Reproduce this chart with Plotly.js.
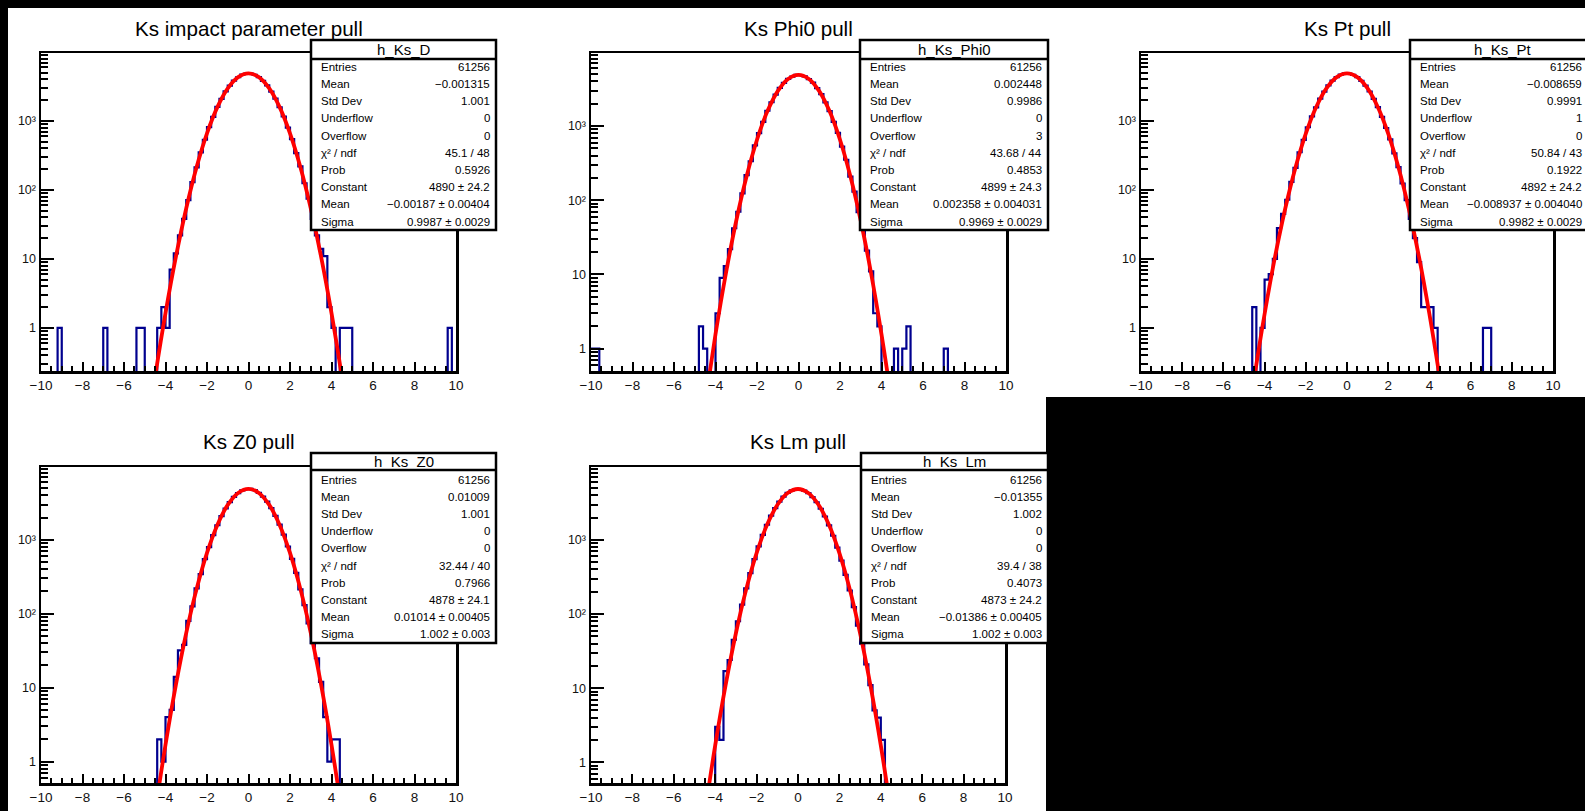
<!DOCTYPE html>
<html><head><meta charset="utf-8">
<script src="https://cdn.plot.ly/plotly-3.0.1.min.js"></script>
<style>html,body{margin:0;padding:0;background:#000;}#chart{width:1585px;height:811px;}</style>
</head><body><div id="chart"></div>
<script>
// ---------------- data ----------------
const xMin = -10, xMax = 10, nBins = 100;

const titles = ["Ks impact parameter pull", "Ks Phi0 pull", "Ks Pt pull", "Ks Z0 pull", "Ks Lm pull"];
const histNames = ["h_Ks_D", "h_Ks_Phi0", "h_Ks_Pt", "h_Ks_Z0", "h_Ks_Lm"];

const hD = [
  0,0,0,0,1,0,0,0,0,0,
  0,0,0,0,0,1,0,0,0,0,
  0,0,0,1,1,0,0,0,1,2,
  1,7,12,22,38,71,130,212,351,534,
  812,1146,1597,2088,2681,3249,3840,4301,4690,4858,
  4872,4662,4330,3815,3275,2660,2112,1579,1160,798,
  545,342,219,125,75,38,22,14,11,2,
  1,0,1,1,1,0,0,0,0,0,
  0,0,0,0,0,0,0,0,0,0,
  0,0,0,0,0,0,0,0,1,0];
const hPhi0 = [
  1,1,0,0,0,0,0,0,0,0,
  0,0,0,0,0,0,0,0,0,0,
  0,0,0,0,0,0,2,1,0,0,
  3,9,13,22,42,70,124,218,336,548,
  803,1141,1610,2095,2650,3281,3812,4334,4652,4891,
  4860,4690,4298,3846,3240,2688,2086,1592,1139,812,
  528,352,208,131,69,41,21,11,3,2,
  0,0,0,1,0,1,2,0,0,0,
  0,0,0,0,0,1,0,0,0,0,
  0,0,0,0,0,0,0,0,0,0];
const hPt = [
  0,0,0,0,0,0,0,0,0,0,
  0,0,0,0,0,0,0,0,0,0,
  0,0,0,0,0,0,0,2,0,1,
  5,6,10,28,45,72,131,209,352,531,
  810,1162,1578,2110,2660,3270,3836,4310,4701,4880,
  4842,4650,4322,3801,3255,2672,2094,1583,1149,790,
  541,339,214,124,71,38,20,9,2,2,
  2,1,0,0,0,0,0,0,0,0,
  0,0,0,1,1,0,0,0,0,0,
  0,0,0,0,0,0,0,0,0,0];
const hZ0 = [
  0,0,0,0,0,0,0,0,0,0,
  0,0,0,0,0,0,0,0,0,0,
  0,0,0,0,0,0,0,0,2,1,
  4,5,14,32,38,80,126,220,344,548,
  795,1158,1575,2096,2652,3240,3810,4290,4655,4840,
  4880,4690,4318,3850,3290,2690,2110,1601,1172,812,
  551,356,214,131,74,40,25,12,4,1,
  2,2,0,0,0,0,0,0,0,0,
  0,0,0,0,0,0,0,0,0,0,
  0,0,0,0,0,0,0,0,0,0];
const hLm = [
  0,0,0,0,0,0,0,0,0,0,
  0,0,0,0,0,0,0,0,0,0,
  0,0,0,0,0,0,0,0,0,0,
  3,2,17,24,45,80,134,222,358,551,
  820,1170,1605,2130,2690,3300,3842,4330,4680,4870,
  4850,4640,4285,3790,3230,2640,2075,1570,1140,788,
  528,338,208,124,70,40,21,11,5,4,
  2,0,0,0,0,0,0,0,0,0,
  0,0,0,0,0,0,0,0,0,0,
  0,0,0,0,0,0,0,0,0,0];

const fitX = [-5,-4.5,-4,-3.5,-3,-2.5,-2,-1.5,-1,-0.5,0,0.5,1,1.5,2,2.5,3,3.5,4,4.5,5];
const fD    = [0.0182,0.196,1.64,10.7,54.3,215,662,1588,2966,4315,4890,4315,2966,1588,662,215,54.3,10.7,1.64,0.196,0.0182];
const fPhi0 = [0.0169,0.184,1.56,10.3,53.0,211,655,1579,2962,4320,4899,4320,2962,1579,655,211,53.0,10.3,1.56,0.184,0.0169];
const fPt   = [0.0175,0.189,1.59,10.5,53.4,212,657,1582,2962,4315,4892,4315,2962,1582,657,212,53.4,10.5,1.59,0.189,0.0175];
const fZ0   = [0.0191,0.203,1.69,10.9,55.2,217,665,1591,2964,4307,4878,4307,2964,1591,665,217,55.2,10.9,1.69,0.203,0.0191];
const fLm   = [0.0191,0.203,1.69,10.9,55.1,217,665,1589,2961,4302,4873,4302,2961,1589,665,217,55.1,10.9,1.69,0.203,0.0191];

const statLabels = ["Entries","Mean","Std Dev","Underflow","Overflow","\u03C7\u00B2 / ndf","Prob","Constant","Mean","Sigma"];
const sD    = ["61256","\u22120.001315","1.001","0","0","45.1 / 48","0.5926","4890 \u00B1 24.2","\u22120.00187 \u00B1 0.00404","0.9987 \u00B1 0.0029"];
const sPhi0 = ["61256","0.002448","0.9986","0","3","43.68 / 44","0.4853","4899 \u00B1 24.3","0.002358 \u00B1 0.004031","0.9969 \u00B1 0.0029"];
const sPt   = ["61256","\u22120.008659","0.9991","1","0","50.84 / 43","0.1922","4892 \u00B1 24.2","\u22120.008937 \u00B1 0.004040","0.9982 \u00B1 0.0029"];
const sZ0   = ["61256","0.01009","1.001","0","0","32.44 / 40","0.7966","4878 \u00B1 24.1","0.01014 \u00B1 0.00405","1.002 \u00B1 0.003"];
const sLm   = ["61256","\u22120.01355","1.002","0","0","39.4 / 38","0.4073","4873 \u00B1 24.2","\u22120.01386 \u00B1 0.00405","1.002 \u00B1 0.003"];

const yTickVals = [1, 10, 100, 1000];
const yTickText = ["1", "10", "10\u00B2", "10\u00B3"];

// ---------------- layout geometry (pixels) ----------------
const W = 1585, H = 811;
const X = p => p / W, Y = p => 1 - p / H;
const panels = [
  {h: hD,    f: fD,    s: sD,    frame: [41, 456, 53, 371],    yr: [-0.625, 3.985], box: [311, 496, 40, 59, 230], vx: 492, row0: 66.7, dr: 17.2, ty: 28},
  {h: hPhi0, f: fPhi0, s: sPhi0, frame: [591, 1006, 53, 371],  yr: [-0.301, 3.985], box: [860, 1048, 40, 59, 230], vx: 1044, row0: 66.7, dr: 17.2, ty: 28},
  {h: hPt,   f: fPt,   s: sPt,   frame: [1141, 1553, 53, 371], yr: [-0.625, 3.985], box: [1410, 1596, 40, 59, 230], vx: 1584, row0: 66.7, dr: 17.2, ty: 28},
  {h: hZ0,   f: fZ0,   s: sZ0,   frame: [41, 456, 467, 783],   yr: [-0.29, 3.985],  box: [311, 496, 453, 470, 643], vx: 492, row0: 480, dr: 17.1, ty: 442},
  {h: hLm,   f: fLm,   s: sLm,   frame: [591, 1005, 467, 783], yr: [-0.28, 3.985],  box: [861, 1048, 453, 470, 643], vx: 1044, row0: 480, dr: 17.1, ty: 442}
];

const FONT = "Liberation Sans, Arial, Helvetica, sans-serif";
const binW = (xMax - xMin) / nBins;
const edges = [];
for (let i = 0; i <= nBins; i++) edges.push(+(xMin + i * binW).toFixed(2));

const yMinor = [];
[0.1, 1, 10, 100, 1000].forEach(d => { for (let k = 2; k <= 9; k++) yMinor.push(d * k); });

const traces = [];
const layout = {
  width: W, height: H,
  margin: {l: 0, r: 0, t: 0, b: 0},
  paper_bgcolor: "#000000",
  plot_bgcolor: "#ffffff",
  showlegend: false,
  hovermode: false,
  shapes: [
    {type: "rect", xref: "paper", yref: "paper", x0: X(8), x1: X(1585), y0: Y(397), y1: Y(8), fillcolor: "#ffffff", line: {width: 0}, layer: "below"},
    {type: "rect", xref: "paper", yref: "paper", x0: X(8), x1: X(1046), y0: Y(811), y1: Y(396), fillcolor: "#ffffff", line: {width: 0}, layer: "below"}
  ],
  annotations: []
};

panels.forEach((p, k) => {
  const n = k === 0 ? "" : String(k + 1);
  const xa = "x" + n, ya = "y" + n;
  const yPlot = p.h.map(v => v > 0 ? v : 1e-4);
  yPlot.push(yPlot[yPlot.length - 1]);
  traces.push({x: edges, y: yPlot, xaxis: xa, yaxis: ya, type: "scatter", mode: "lines",
               line: {shape: "hv", color: "#00008f", width: 2.2}});
  traces.push({x: fitX, y: p.f, xaxis: xa, yaxis: ya, type: "scatter", mode: "lines",
               line: {shape: "spline", smoothing: 1, color: "#ff0000", width: 3.8}});

  const [fx0, fx1, fy0, fy1] = p.frame;
  layout["xaxis" + n] = {
    domain: [X(fx0), X(fx1)], anchor: ya, range: [xMin, xMax],
    tickmode: "linear", tick0: -10, dtick: 2,
    ticks: "inside", ticklen: 9, tickwidth: 2, tickcolor: "#000",
    minor: {tickmode: "linear", tick0: -10, dtick: 0.5, ticks: "inside", ticklen: 5, tickwidth: 2, tickcolor: "#000"},
    showline: true, mirror: true, linecolor: "#000", linewidth: 2.5,
    showgrid: false, zeroline: false,
    tickfont: {family: FONT, size: 13.5, color: "#111"}
  };
  layout["yaxis" + n] = {
    domain: [Y(fy1), Y(fy0)], anchor: xa, type: "log", range: p.yr,
    tickmode: "array", tickvals: yTickVals, ticktext: yTickText,
    ticks: "inside", ticklen: 13, tickwidth: 2, tickcolor: "#000",
    minor: {tickmode: "array", tickvals: yMinor, ticks: "inside", ticklen: 7, tickwidth: 2, tickcolor: "#000"},
    showline: true, mirror: true, linecolor: "#000", linewidth: 2.5,
    showgrid: false, zeroline: false,
    tickfont: {family: FONT, size: 12.5, color: "#111"}
  };

  // title
  layout.annotations.push({xref: "paper", yref: "paper", x: X((fx0 + fx1) / 2), y: Y(p.ty),
    xanchor: "center", yanchor: "middle", showarrow: false, text: titles[k],
    font: {family: FONT, size: 20.6, color: "#000"}});

  // stats box
  const [bx0, bx1, by0, byh, by1] = p.box;
  layout.shapes.push({type: "rect", xref: "paper", yref: "paper", x0: X(bx0), x1: X(bx1), y0: Y(by1), y1: Y(by0),
    fillcolor: "#ffffff", line: {color: "#000", width: 2.5}, layer: "above"});
  layout.shapes.push({type: "line", xref: "paper", yref: "paper", x0: X(bx0), x1: X(bx1), y0: Y(byh), y1: Y(byh),
    line: {color: "#000", width: 2.5}, layer: "above"});
  layout.annotations.push({xref: "paper", yref: "paper", x: X((bx0 + bx1) / 2), y: Y((by0 + byh) / 2),
    xanchor: "center", yanchor: "middle", showarrow: false, text: histNames[k],
    font: {family: FONT, size: 15, color: "#000"}});
  statLabels.forEach((lab, r) => {
    const yy = Y(p.row0 + r * p.dr);
    layout.annotations.push({xref: "paper", yref: "paper", x: X(bx0 + 8), y: yy, xanchor: "left", yanchor: "middle",
      showarrow: false, text: lab, font: {family: FONT, size: 11.5, color: "#000"}});
    layout.annotations.push({xref: "paper", yref: "paper", x: X(p.vx), y: yy, xanchor: "right", yanchor: "middle",
      showarrow: false, text: p.s[r], font: {family: FONT, size: 11.5, color: "#000"}});
  });
});

Plotly.newPlot("chart", traces, layout, {staticPlot: true, displayModeBar: false});
</script>
</body></html>
